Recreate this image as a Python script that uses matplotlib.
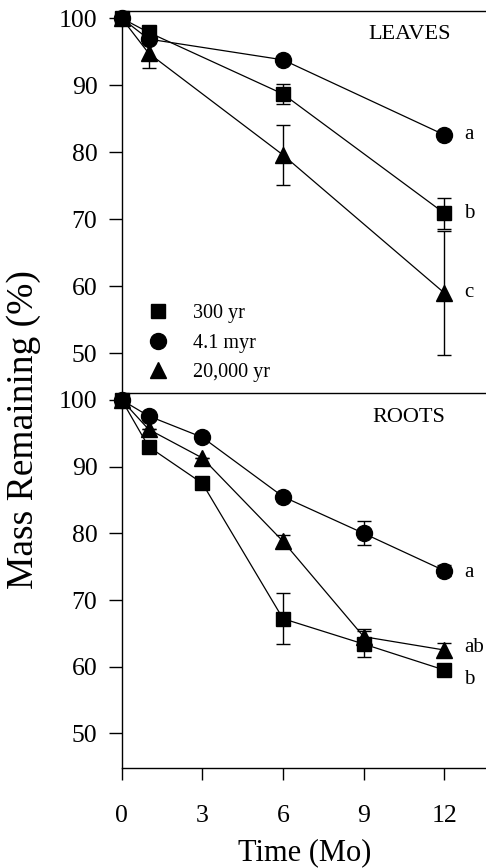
import matplotlib
matplotlib.use("Agg")
import matplotlib.pyplot as plt
from matplotlib.lines import Line2D

plt.rcParams["font.family"] = ["Liberation Serif", "DejaVu Serif"]

# Leaf litter decomposition (months, % mass remaining, +/- SE)
leaf_months = [0, 1, 6, 12]
leaf_300yr = [100, 97.9, 88.7, 70.9]
leaf_300yr_err = [0, 0, 1.55, 2.3]
leaf_4myr = [100, 96.9, 93.8, 82.6]
leaf_4myr_err = [0, 0, 0, 0]
leaf_20kyr = [100, 94.8, 79.6, 59.0]
leaf_20kyr_err = [0, 2.2, 4.5, 9.3]
leaf_letters = ["b", "a", "c"]

# Root litter decomposition
root_months = [0, 1, 3, 6, 9, 12]
root_300yr = [100, 93.0, 87.5, 67.2, 63.4, 59.5]
root_300yr_err = [0, 0, 0, 3.8, 2.0, 0]
root_4myr = [100, 97.6, 94.4, 85.5, 80.0, 74.4]
root_4myr_err = [0, 0, 0, 0, 1.8, 0.8]
root_20kyr = [100, 95.6, 91.3, 78.8, 64.5, 62.5]
root_20kyr_err = [0, 0, 0, 0.9, 1.1, 1.0]
root_letters = ["b", "a", "ab"]

site_labels = ["300 yr", "4.1 myr", "20,000 yr"]
site_markers = ["s", "o", "^"]
marker_sizes = [10.5, 11.5, 11.5]
x_ticks = [0, 3, 6, 9, 12]
y_ticks = [50, 60, 70, 80, 90, 100]

fig = plt.figure(figsize=(4.86, 8.68), dpi=100)
left = 121.7 / 486
ax_top = fig.add_axes([left, 0.54724, 1 - left, 0.44009])
ax_bot = fig.add_axes([left, 0.11555, 1 - left, 0.43169])
for ax in (ax_top, ax_bot):
    ax.patch.set_visible(False)
ax_top.set_zorder(3)


def draw_series(ax, months, values, errs, marker, ms):
    ax.errorbar(months, values, yerr=errs, fmt="-", color="black", lw=0.9,
                elinewidth=1.0, capsize=4.7, capthick=1.0, zorder=2,
                clip_on=False)
    ax.plot(months, values, linestyle="none", marker=marker, ms=ms,
            color="black", zorder=3, clip_on=False)


top_series = [(leaf_300yr, leaf_300yr_err), (leaf_4myr, leaf_4myr_err),
              (leaf_20kyr, leaf_20kyr_err)]
bot_series = [(root_300yr, root_300yr_err), (root_4myr, root_4myr_err),
              (root_20kyr, root_20kyr_err)]

for (vals, errs), m, ms in zip(top_series, site_markers, marker_sizes):
    draw_series(ax_top, leaf_months, vals, errs, m, ms)
for (vals, errs), m, ms in zip(bot_series, site_markers, marker_sizes):
    draw_series(ax_bot, root_months, vals, errs, m, ms)

# significance letters next to the final points (offsets in points)
top_offsets = [0, 0, 0]
bot_offsets = [-6.7, -1.5, 2.0]
for (vals, _), letter, dy in zip(top_series, leaf_letters, top_offsets):
    ax_top.annotate(letter, xy=(leaf_months[-1], vals[-1]), xytext=(14.4, dy),
                    textcoords="offset points", ha="left", va="center",
                    fontsize=15)
for (vals, _), letter, dy in zip(bot_series, root_letters, bot_offsets):
    ax_bot.annotate(letter, xy=(root_months[-1], vals[-1]), xytext=(14.4, dy),
                    textcoords="offset points", ha="left", va="center",
                    fontsize=15)

ax_top.text(0.789, 0.938, "LEAVES", transform=ax_top.transAxes,
            ha="center", va="center", fontsize=16)
ax_bot.text(0.789, 0.935, "ROOTS", transform=ax_bot.transAxes,
            ha="center", va="center", fontsize=16)

for ax in (ax_top, ax_bot):
    ax.set_xlim(0, 13.55)
    ax.set_yticks(y_ticks)
    ax.spines["right"].set_visible(False)
    for s in ("left", "bottom", "top"):
        ax.spines[s].set_linewidth(1.0)
    ax.tick_params(axis="y", direction="out", length=9.5, width=1.0,
                   pad=8, labelsize=18.5)
    ax.tick_params(axis="x", direction="out", length=8.6, width=1.0,
                   pad=18.5, labelsize=18.5)
    ax.set_xticks(x_ticks)

ax_top.set_ylim(44.07, 101.09)
ax_bot.set_ylim(44.85, 101.05)
ax_top.tick_params(axis="x", bottom=False, labelbottom=False)
ax_bot.spines["top"].set_visible(False)

handles = [Line2D([], [], linestyle="none", marker=m, ms=ms, color="black")
           for m, ms in zip(site_markers, marker_sizes)]
ax_top.legend(handles, site_labels, loc="center left",
              bbox_to_anchor=(0.0714, 0.130), frameon=False, fontsize=14.5,
              handlelength=1.0, handletextpad=1.26, labelspacing=0.52,
              borderpad=0, borderaxespad=0)

fig.text(0.049, 0.5046, "Mass Remaining (%)", rotation=90, ha="center",
         va="center", fontsize=27)
fig.text(0.6276, 0.0085, "Time (Mo)", ha="center", va="baseline", fontsize=22)

fig.savefig("out.png", dpi=100)
